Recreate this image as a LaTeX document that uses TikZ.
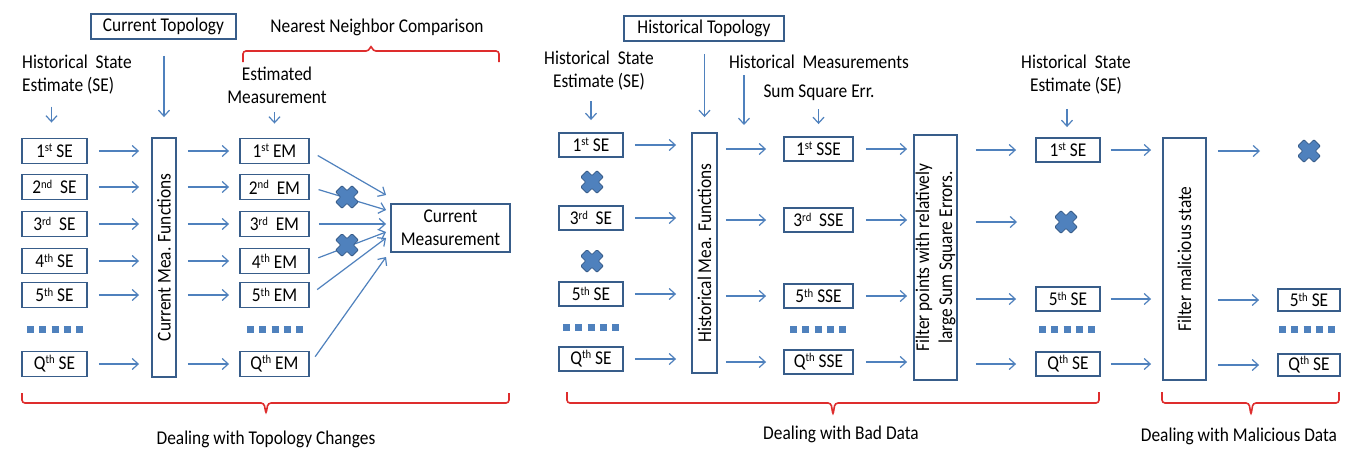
\documentclass[tikz,border=0pt]{standalone}
\usepackage{fontspec}
\setmainfont{Carlito}[FakeStretch=0.89]
\usetikzlibrary{arrows.meta,calc}
\definecolor{boxc}{RGB}{56,93,138}
\definecolor{arrc}{RGB}{79,129,189}
\definecolor{bracec}{RGB}{222,45,45}
\newcommand\myfs{\fontsize{19.5}{23}\selectfont}
\newcommand\sps[1]{\raisebox{0.62ex}{\fontsize{12}{12}\selectfont #1}}
\tikzset{
  box/.style={draw=boxc, line width=1.9pt, fill=white, inner sep=0pt, minimum height=25pt, font=\myfs},
  tallbox/.style={draw=boxc, line width=1.9pt, fill=white, inner sep=0pt},
  lbl/.style={inner sep=0pt, font=\myfs, align=center},
  vtext/.style={inner sep=0pt, font=\myfs, align=center, rotate=90},
  arr/.style={draw=arrc, line width=1.2pt, -{Straight Barb[length=6pt,width=11pt,line width=1.2pt]}},
  bracestyle/.style={draw=bracec, line width=1.6pt, rounded corners=3pt},
  dots/.style={draw=arrc, line width=7pt, dash pattern=on 7pt off 5.25pt},
  xmark/.pic={
    \filldraw[fill=arrc, draw=boxc, line width=0.8pt, rotate=45, rounded corners=1pt]
      (-4.5,-11.5) -- (4.5,-11.5) -- (4.5,-4.5) -- (11.5,-4.5) -- (11.5,4.5) -- (4.5,4.5)
      -- (4.5,11.5) -- (-4.5,11.5) -- (-4.5,4.5) -- (-11.5,4.5) -- (-11.5,-4.5) -- (-4.5,-4.5) -- cycle;
  }
}
\begin{document}
\begin{tikzpicture}[x=1pt,y=-1pt]
\useasboundingbox[fill=white] (0,0) rectangle (1364,472);

% ===================== Left block: topology changes =====================
\node[box, minimum width=145pt] (ct) at (163.5,26.5) {Current Topology};
\node[lbl] (nnc) at (377,27) {Nearest Neighbor Comparison};
\node[lbl, align=left, anchor=west] (hse1) at (22,74.5) {Historical\ \ State\\Estimate (SE)};
\node[lbl] (estm) at (277,85.5) {Estimated\\Measurement};

\node[box, minimum width=65pt] (se1) at (54.5,151) {1\sps{st} SE};
\node[box, minimum width=65pt] (se2) at (54.5,187) {2\sps{nd}\ \ SE};
\node[box, minimum width=65pt] (se3) at (54.5,224) {3\sps{rd}\ \ SE};
\node[box, minimum width=65pt] (se4) at (54.5,261) {4\sps{th} SE};
\node[box, minimum width=65pt] (se5) at (54.5,295) {5\sps{th} SE};
\node[box, minimum width=65pt] (seq) at (54.5,364) {Q\sps{th} SE};
\draw[dots] (27,329) -- (84,329);

\node[tallbox, minimum width=24pt, minimum height=239pt] (fn) at (164,257.5) {};
\node[vtext] (fntxt) at (fn.center) {Current Mea. Functions};

\node[box, minimum width=69pt] (em1) at (274.5,151) {1\sps{st} EM};
\node[box, minimum width=69pt] (em2) at (274.5,187) {2\sps{nd}\ \ EM};
\node[box, minimum width=69pt] (em3) at (274.5,224) {3\sps{rd}\ \ EM};
\node[box, minimum width=69pt] (em4) at (274.5,261) {4\sps{th} EM};
\node[box, minimum width=69pt] (em5) at (274.5,295) {5\sps{th} EM};
\node[box, minimum width=69pt] (emq) at (274.5,364) {Q\sps{th} EM};
\draw[dots] (247,329) -- (304,329);

\node[box, minimum width=119pt, minimum height=48pt, align=center] (cm) at (450.5,228) {Current\\Measurement};

\draw[arr] ([xshift=-3pt,yshift=31pt]se1.north) -- ([xshift=-3pt,yshift=15pt]se1.north);
\draw[arr, shorten <=16pt, shorten >=20pt] (ct.south -| fn.north) -- (fn.north);
\draw[arr, shorten <=8pt, shorten >=14pt] (estm.south -| em1.north) -- (em1.north);

\foreach \r in {1,2,3,4,5,q}{
  \draw[arr, shorten <=11pt, shorten >=12pt] (se\r.east) -- (se\r.east -| fn.west);
  \draw[arr, shorten <=11pt, shorten >=10pt] (em\r.west -| fn.east) -- (em\r.west);
}
\draw[arr, shorten <=9pt] (em1.east) -- ([xshift=-4pt,yshift=33pt]cm.west);
\draw[arr, shorten <=9pt] (em2.east) -- ([xshift=-4pt,yshift=18pt]cm.west);
\draw[arr, shorten <=9pt] (em3.east) -- ([xshift=-4pt,yshift=4pt]cm.west);
\draw[arr, shorten <=9pt] (em4.east) -- ([xshift=-4pt,yshift=-4pt]cm.west);
\draw[arr, shorten <=9pt] (em5.east) -- ([xshift=-4pt,yshift=-10pt]cm.west);
\draw[arr, shorten <=9pt] (emq.east) -- ([xshift=-4pt,yshift=-29pt]cm.west);
\pic at (347,197) {xmark};
\pic at (347,245) {xmark};

\draw[bracestyle] (243,62) -- (243,51) -- (369,51) -- (371,45) -- (373,51) -- (499,51) -- (499,62);
\draw[bracestyle] (22,393) -- (22,403) -- (264,403) -- (266,414) -- (268,403) -- (509,403) -- (509,393);
\node[lbl] (dtc) at (266,439) {Dealing with Topology Changes};

% ===================== Middle block: bad data =====================
\node[box, minimum width=160pt] (ht) at (704,28.5) {Historical Topology};
\node[lbl] (hse2) at (599,71) {Historical\ \ State\\Estimate (SE)};
\node[lbl] (hm) at (819,62) {Historical\ \ Measurements};
\node[lbl] (sse) at (819,93) {Sum Square Err.};

\node[box, minimum width=64pt, minimum height=24pt] (m1) at (591,145) {1\sps{st} SE};
\node[box, minimum width=64pt, minimum height=24pt] (m3) at (591,218) {3\sps{rd}\ \ SE};
\node[box, minimum width=64pt, minimum height=24pt] (m5) at (591,294) {5\sps{th} SE};
\node[box, minimum width=64pt, minimum height=24pt] (mq) at (591,359) {Q\sps{th} SE};
\draw[dots] (563,327) -- (620,327);
\pic at (592,182) {xmark};
\pic at (592,261) {xmark};

\node[tallbox, minimum width=25pt, minimum height=240pt] (hmf) at (704.5,253) {};
\node[vtext] (hmftxt) at (hmf.center) {Historical Mea. Functions};

\node[box, minimum width=69pt, minimum height=24pt] (s1) at (818.5,149) {1\sps{st} SSE};
\node[box, minimum width=69pt, minimum height=24pt] (s3) at (818.5,220) {3\sps{rd}\ \ SSE};
\node[box, minimum width=69pt, minimum height=24pt] (s5) at (818.5,296) {5\sps{th} SSE};
\node[box, minimum width=69pt, minimum height=24pt] (sq) at (818.5,362) {Q\sps{th} SSE};
\draw[dots] (790,329) -- (847,329);

\node[tallbox, minimum width=43pt, minimum height=245pt] (flt) at (935.5,257.5) {};
\node[vtext] (flttxt) at (flt.center) {Filter points with relatively\\large Sum Square Errors.};

\coordinate (hmin) at (744,125);
\draw[arr] ([yshift=31pt]m1.north) -- ([yshift=12pt]m1.north);
\draw[arr, shorten <=12pt, shorten >=15pt] (ht.south -| hmf.north) -- (hmf.north);
\draw[arr, shorten <=6pt] (hm.south -| hmin) -- (hmin);
\draw[arr, shorten <=8pt, shorten >=12pt] (sse.south -| s1.north) -- (s1.north);

\foreach \r in {1,3,5,q}{
  \draw[arr, shorten <=11pt, shorten >=15pt] (m\r.east) -- (m\r.east -| hmf.west);
  \draw[arr, shorten <=8pt, shorten >=17pt] (s\r.west -| hmf.east) -- (s\r.west);
  \draw[arr, shorten <=12pt, shorten >=6pt] (s\r.east) -- (s\r.east -| flt.west);
}

\draw[bracestyle] (567,392) -- (567,403) -- (831,403) -- (833,415) -- (835,403) -- (1099,403) -- (1099,392);
\node[lbl] (dbd) at (841,434) {Dealing with Bad Data};

% ===================== Right block: malicious data =====================
\node[lbl] (hse3) at (1076,75) {Historical\ \ State\\Estimate (SE)};
\node[box, minimum width=64pt, minimum height=24pt] (r1) at (1068,150) {1\sps{st} SE};
\node[box, minimum width=64pt, minimum height=24pt] (r5) at (1068,299) {5\sps{th} SE};
\node[box, minimum width=64pt, minimum height=24pt] (rq) at (1068,364) {Q\sps{th} SE};
\draw[dots] (1039,329) -- (1096,329);
\coordinate (rx3) at (1066,222);
\pic at (rx3) {xmark};

\node[tallbox, minimum width=43pt, minimum height=242pt] (fm) at (1184.5,259) {};
\node[vtext] (fmtxt) at (fm.center) {Filter malicious state};

\node[box, minimum width=62pt, minimum height=22pt] (o5) at (1309,300) {5\sps{th} SE};
\node[box, minimum width=62pt, minimum height=22pt] (oq) at (1309,365) {Q\sps{th} SE};
\draw[dots] (1279,329) -- (1336,329);
\coordinate (ox1) at (1309,151);
\pic at (ox1) {xmark};

\draw[arr, shorten <=14pt, shorten >=10pt] ([xshift=-1pt]hse3.south -| r1.north) -- ([xshift=-1pt]r1.north);
\foreach \r in {1,5,q}{
  \draw[arr, shorten <=18pt, shorten >=19pt] (r\r.west -| flt.east) -- (r\r.west);
  \draw[arr, shorten <=10pt, shorten >=11pt] (r\r.east) -- (r\r.east -| fm.west);
}
\draw[arr, shorten <=18pt, shorten >=49pt] (rx3 -| flt.east) -- (rx3);
\draw[arr, shorten <=11pt, shorten >=49pt] (ox1 -| fm.east) -- (ox1);
\draw[arr, shorten <=11pt, shorten >=18pt] (o5.west -| fm.east) -- (o5.west);
\draw[arr, shorten <=11pt, shorten >=18pt] (oq.west -| fm.east) -- (oq.west);

\draw[bracestyle] (1162,392) -- (1162,403) -- (1249,403) -- (1251,415) -- (1253,403) -- (1339,403) -- (1339,392);
\node[lbl] (dmd) at (1239,436) {Dealing with Malicious Data};
\end{tikzpicture}
\end{document}
